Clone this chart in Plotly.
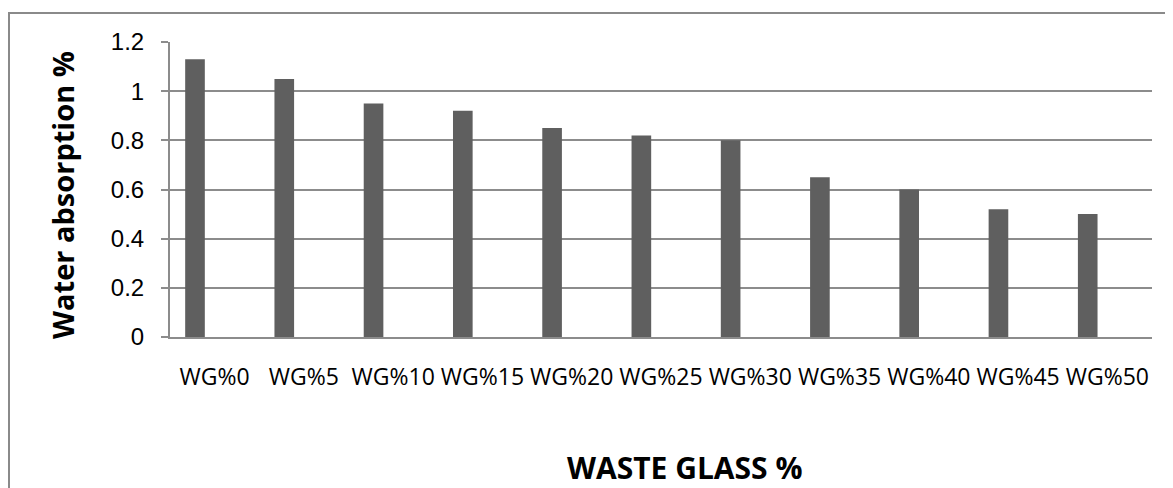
import plotly.graph_objects as go

categories = ["WG%0", "WG%5", "WG%10", "WG%15", "WG%20", "WG%25",
              "WG%30", "WG%35", "WG%40", "WG%45", "WG%50"]
water_absorption = [1.13, 1.05, 0.95, 0.92, 0.85, 0.82, 0.80, 0.65, 0.60, 0.52, 0.50]
y_ticks = [0, 0.2, 0.4, 0.6, 0.8, 1.0, 1.2]
y_tick_labels = ["0", "0.2", "0.4", "0.6", "0.8", "1", "1.2"]

# the page body adds an 8px margin; size the figure to fit the window
OFF = 8
W, H = 1173 - OFF, 488 - OFF
# plot area in window pixels: x 170..1152, y 42..337
ml = 170 - OFF
mr = W - (1152 - OFF)
mt = 42 - OFF
mb = H - (337 - OFF)
pw, ph = W - ml - mr, H - mt - mb

def px_x(p):
    return (p - OFF - ml) / pw

def px_y(p):
    return (H - mb - (p - OFF)) / ph

fig = go.Figure()
fig.add_trace(go.Bar(
    x=categories, y=water_absorption,
    marker=dict(color="#5f5f5f", line=dict(width=0)),
    width=0.22, offset=-0.33,
    hoverinfo="x+y",
))

grid_col = "#8c8c8c"
fig.update_layout(
    width=W, height=H,
    margin=dict(l=ml, r=mr, t=mt, b=mb, pad=0),
    paper_bgcolor="white", plot_bgcolor="white",
    showlegend=False,
    xaxis=dict(
        type="category", range=[-0.5, 10.5],
        showgrid=False, showline=True, linecolor=grid_col, linewidth=2,
        ticks="", tickangle=0,
        tickfont=dict(family="Open Sans", size=23, color="black"),
        ticklabelstandoff=18,
    ),
    yaxis=dict(
        range=[0, 1.2], tickvals=y_ticks, ticktext=y_tick_labels,
        showgrid=True, gridcolor=grid_col, gridwidth=2,
        showline=True, linecolor=grid_col, linewidth=2,
        ticks="outside", ticklen=7, tickcolor=grid_col, tickwidth=2,
        tickfont=dict(family="Liberation Sans, Arial", size=24, color="black"),
        ticklabelstandoff=12,
        zeroline=False,
    ),
    shapes=[dict(
        type="rect", xref="paper", yref="paper",
        x0=px_x(9), x1=px_x(1200), y0=px_y(520), y1=px_y(13),
        line=dict(color="#8a8a8a", width=2), fillcolor="rgba(0,0,0,0)", layer="below",
    )],
    annotations=[
        dict(text="<b>WASTE GLASS %</b>", xref="paper", yref="paper",
             x=px_x(684), y=px_y(468), xanchor="center", yanchor="middle",
             showarrow=False, font=dict(family="Open Sans", size=30, color="black")),
        dict(text="<b>Water absorption %</b>", xref="paper", yref="paper",
             x=px_x(62), y=px_y(195), xanchor="center", yanchor="middle",
             textangle=-90, showarrow=False,
             font=dict(family="Open Sans", size=29, color="black")),
    ],
)

fig.write_html("out.html")
